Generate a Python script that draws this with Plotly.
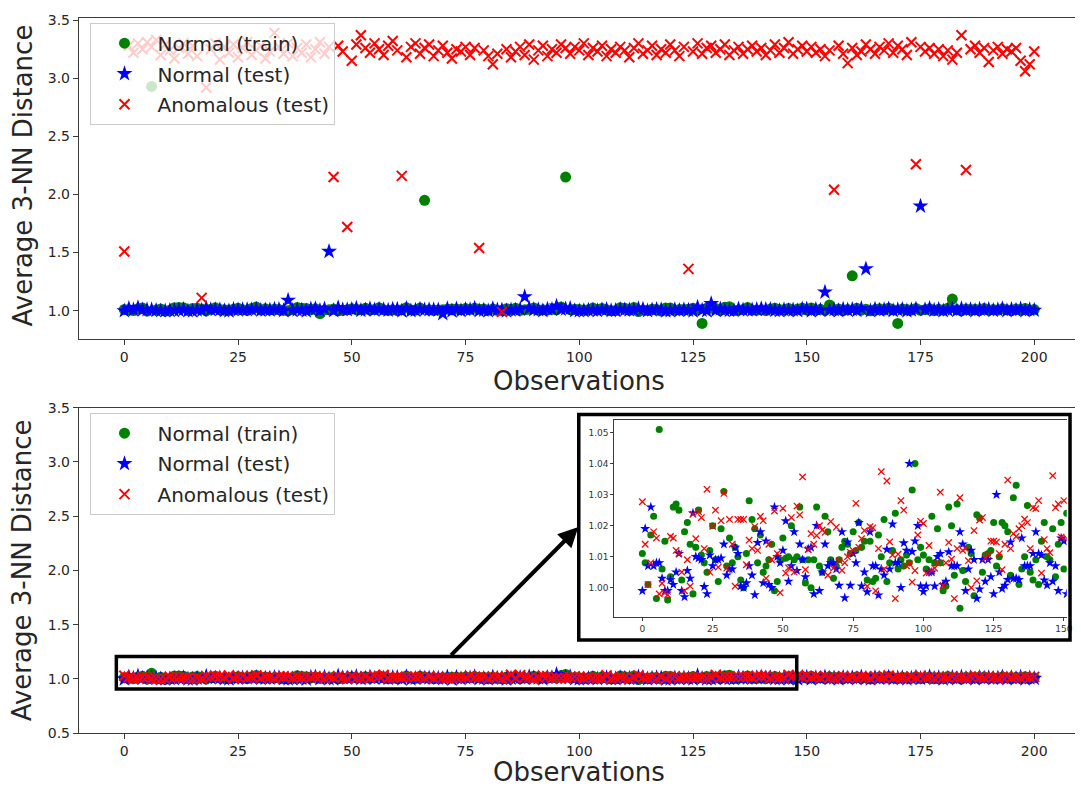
import plotly.graph_objects as go

# ---------------- data ----------------
obs = list(range(201))

# upper panel: average 3-NN distance per observation
top_train = [
    1.011, 1.008, 1.001, 1.017, 1.023, 0.997, 2.93, 1.006, 1.015, 0.996,
    1.004, 1.026, 1.027, 1.025, 1.003, 1.018, 1.021, 1.014, 0.998, 1.013,
    1.025, 1.011, 1.008, 1.005, 1.012, 1.020, 1.009, 1.002, 1.019, 1.031,
    1.007, 1.016, 1.008, 1.013, 1.010, 1.003, 1.000, 1.011, 1.028, 1.022,
    1.019, 1.008, 1.017, 0.975, 1.007, 1.009, 1.014, 0.999, 1.002, 1.009,
    1.016, 1.010, 1.010, 1.020, 1.009, 1.010, 1.026, 1.009, 1.002, 1.009,
    1.000, 1.009, 1.026, 1.007, 1.005, 1.023, 1.95, 1.009, 1.003, 1.007,
    1.009, 1.013, 1.015, 1.014, 1.011, 1.018, 1.012, 1.021, 1.013, 1.015,
    1.003, 1.015, 1.002, 1.003, 1.017, 1.010, 1.022, 1.002, 1.008, 1.012,
    1.024, 1.006, 1.009, 1.007, 1.011, 1.008, 1.032, 2.15, 1.009, 1.013,
    1.011, 1.006, 1.009, 1.023, 1.008, 1.019, 1.008, 0.999, 1.001, 1.026,
    1.020, 1.004, 1.027, 0.993, 1.006, 1.002, 1.013, 1.011, 0.997, 1.024,
    1.023, 1.005, 1.011, 1.011, 1.012, 1.021, 1.007, 0.89, 1.021, 1.020,
    1.018, 1.004, 1.029, 1.033, 1.001, 1.006, 1.010, 1.027, 1.005, 1.003,
    1.009, 1.001, 1.015, 1.021, 1.010, 1.009, 1.019, 1.004, 1.014, 1.021,
    1.006, 1.024, 1.006, 1.012, 1.003, 1.05, 1.009, 1.015, 1.001, 1.011,
    1.30, 1.020, 1.004, 1.013, 0.999, 1.010, 1.016, 1.005, 1.022, 1.008,
    0.89, 1.014, 1.011, 1.006, 1.019, 1.003, 1.009, 1.017, 1.000, 1.012,
    1.007, 1.021, 1.10, 1.010, 0.998, 1.015, 1.008, 1.013, 1.002, 1.018,
    1.006, 1.011, 1.004, 1.016, 1.009, 1.001, 1.014, 1.007, 1.019, 1.003,
    1.010,
]
top_test = [
    0.999, 1.019, 1.007, 1.026, 1.007, 1.008, 1.008, 1.003, 0.999, 0.999,
    1.003, 1.001, 1.005, 1.011, 0.999, 0.997, 1.006, 1.003, 1.024, 1.010,
    1.010, 1.009, 1.000, 0.998, 1.011, 1.007, 1.009, 1.009, 1.010, 1.014,
    1.004, 1.006, 1.006, 1.013, 1.011, 1.001, 1.09, 1.002, 1.007, 1.004,
    0.998, 1.015, 1.018, 1.002, 1.015, 1.51, 1.000, 1.026, 1.010, 1.008,
    1.012, 1.022, 1.002, 1.007, 1.018, 1.006, 1.014, 1.009, 1.004, 1.013,
    1.013, 0.998, 1.020, 0.999, 1.005, 1.014, 1.007, 1.008, 1.008, 1.006,
    0.975, 1.018, 0.997, 1.015, 1.001, 1.011, 1.008, 1.021, 1.001, 1.005,
    0.999, 1.018, 1.007, 1.007, 0.998, 1.006, 1.004, 1.012, 1.12, 1.021,
    1.008, 1.008, 1.000, 1.014, 1.012, 1.040, 1.012, 1.015, 1.020, 1.001,
    0.999, 1.001, 1.005, 1.005, 1.001, 1.010, 1.011, 1.001, 1.002, 1.012,
    1.007, 1.007, 1.007, 1.018, 1.014, 0.999, 1.006, 1.012, 1.009, 0.997,
    1.000, 1.009, 1.002, 1.009, 1.004, 0.998, 1.030, 1.005, 1.000, 1.06,
    1.003, 1.015, 1.003, 1.003, 1.003, 1.016, 1.007, 1.007, 1.007, 1.011,
    1.018, 1.011, 1.011, 1.002, 1.001, 1.008, 1.002, 1.007, 0.999, 1.016,
    1.015, 0.998, 1.012, 1.005, 1.16, 1.003, 1.009, 1.000, 1.014, 1.006,
    1.011, 1.002, 1.019, 1.36, 0.999, 1.013, 1.004, 1.010, 1.016, 1.001,
    1.008, 1.012, 0.998, 1.006, 1.015, 1.90, 1.009, 1.020, 1.004, 1.011,
    0.999, 1.007, 1.013, 1.002, 1.017, 1.005, 1.010, 1.000, 1.014, 1.006,
    1.012, 1.003, 1.008, 1.018, 1.001, 1.011, 1.005, 1.015, 0.999, 1.009,
    1.004,
]
top_anom = [
    1.51, 3.28, 3.22, 3.30, 3.25, 3.31, 3.27, 3.33, 3.20, 3.29,
    3.24, 3.17, 3.26, 3.30, 3.21, 3.28, 3.19, 1.11, 2.92, 3.25,
    3.30, 3.16, 3.27, 3.22, 3.29, 3.18, 3.26, 3.31, 3.20, 3.24,
    3.28, 3.17, 3.23, 3.39, 3.27, 3.21, 3.30, 3.19, 3.26, 3.22,
    3.29, 3.18, 3.25, 3.31, 3.21, 3.27, 2.15, 3.28, 3.23, 1.72,
    3.15, 3.29, 3.37, 3.26, 3.22, 3.30, 3.25, 3.20, 3.28, 3.32,
    3.24, 2.16, 3.18, 3.27, 3.30, 3.21, 3.26, 3.29, 3.19, 3.24,
    3.28, 3.22, 3.17, 3.25, 3.23, 3.27, 3.20, 3.26, 1.54, 3.24,
    3.19, 3.12, 3.21, 0.99, 3.25, 3.18, 3.23, 3.27, 3.20, 3.29,
    3.16, 3.24, 3.28, 3.19, 3.25, 3.22, 3.29, 3.26, 3.21, 3.27,
    3.24, 3.30, 3.20, 3.26, 3.23, 3.28, 3.19, 3.25, 3.22, 3.27,
    3.24, 3.18, 3.26, 3.30, 3.21, 3.24, 3.28, 3.20, 3.25, 3.22,
    3.29, 3.24, 3.19, 3.27, 1.36, 3.23, 3.30, 3.21, 3.26, 3.28,
    3.22, 3.25, 3.29, 3.20, 3.24, 3.27, 3.21, 3.25, 3.28, 3.23,
    3.26, 3.20, 3.24, 3.29, 3.22, 3.26, 3.31, 3.21, 3.25, 3.28,
    3.23, 3.27, 3.22, 3.25, 3.19, 3.24, 2.04, 3.28, 3.21, 3.13,
    3.26, 3.20, 3.23, 3.29, 3.25, 3.21, 3.27, 3.24, 3.30, 3.22,
    3.28, 3.25, 3.20, 3.31, 2.26, 3.27, 3.23, 3.26, 3.21, 3.25,
    3.19, 3.24, 3.16, 3.22, 3.37, 2.21, 3.25, 3.28, 3.22, 3.26,
    3.14, 3.24, 3.27, 3.21, 3.25, 3.23, 3.26, 3.15, 3.06, 3.12,
    3.23,
]

# lower panel: average 3-NN distance per observation
low_train = [
    1.011, 1.008, 1.001, 1.017, 1.023, 0.9965, 1.051, 1.006, 1.015, 0.996,
    1.0035, 1.026, 1.027, 1.025, 1.0025, 1.018, 1.021, 1.014, 0.998, 1.013,
    1.025, 1.0105, 1.008, 1.005, 1.012, 1.020, 1.009, 1.002, 1.019, 1.031,
    1.007, 1.016, 1.008, 1.013, 1.010, 1.0025, 1.000, 1.011, 1.028, 1.022,
    1.019, 1.008, 1.017, 1.005, 1.007, 1.009, 1.014, 0.999, 1.002, 1.009,
    1.016, 1.0095, 1.010, 1.020, 1.009, 1.010, 1.026, 1.009, 1.0015, 1.009,
    1.000, 1.009, 1.026, 1.007, 1.005, 1.023, 1.018, 1.009, 1.003, 1.007,
    1.009, 1.013, 1.015, 1.014, 1.011, 1.018, 1.012, 1.021, 1.013, 1.015,
    1.0025, 1.015, 1.002, 1.003, 1.017, 1.010, 1.022, 1.002, 1.008, 1.012,
    1.024, 1.006, 1.009, 1.007, 1.0105, 1.008, 1.0315, 1.040, 1.009, 1.013,
    1.0105, 1.006, 1.009, 1.023, 1.008, 1.019, 1.008, 0.999, 1.0005, 1.026,
    1.020, 1.004, 1.027, 0.9934, 1.0055, 1.002, 1.013, 1.011, 0.9974, 1.0235,
    1.0225, 1.005, 1.0105, 1.011, 1.012, 1.021, 1.007, 1.010, 1.021, 1.020,
    1.018, 1.004, 1.029, 1.033, 1.001, 1.006, 1.010, 1.0265, 1.005, 1.0025,
    1.009, 1.001, 1.015, 1.021, 1.010, 1.009, 1.019, 1.0035, 1.014, 1.021,
    1.006, 1.024, 1.006, 1.012, 1.003, 1.018, 1.009, 1.015, 1.001, 1.011,
    1.007, 1.020, 1.004, 1.013, 0.999, 1.010, 1.016, 1.005, 1.022, 1.008,
    1.002, 1.014, 1.011, 1.006, 1.019, 1.003, 1.009, 1.017, 1.000, 1.012,
    1.007, 1.021, 1.004, 1.010, 0.998, 1.015, 1.008, 1.013, 1.002, 1.018,
    1.006, 1.011, 1.004, 1.016, 1.009, 1.001, 1.014, 1.007, 1.019, 1.003,
    1.010,
]
low_test = [
    0.999, 1.019, 1.007, 1.026, 1.007, 1.008, 1.008, 1.003, 0.999, 0.999,
    1.0025, 1.001, 1.005, 1.011, 0.999, 0.997, 1.0055, 1.003, 1.024, 1.010,
    1.0095, 1.009, 1.0003, 0.998, 1.0105, 1.007, 1.009, 1.009, 1.0095, 1.014,
    1.004, 1.006, 1.006, 1.013, 1.011, 1.0005, 1.000, 1.0015, 1.007, 1.004,
    0.9977, 1.0145, 1.018, 1.0015, 1.015, 1.001, 1.000, 1.026, 1.010, 1.008,
    1.012, 1.0215, 1.002, 1.007, 1.018, 1.0055, 1.014, 1.009, 1.0035, 1.0125,
    1.013, 0.998, 1.020, 0.999, 1.005, 1.014, 1.007, 1.008, 1.008, 1.006,
    1.0007, 1.018, 0.9967, 1.0147, 1.0007, 1.011, 1.008, 1.021, 1.0005, 1.005,
    0.9986, 1.018, 1.007, 1.007, 0.9976, 1.006, 1.004, 1.0123, 1.006, 1.0205,
    1.008, 1.008, 1.000, 1.0144, 1.012, 1.040, 1.0116, 1.015, 1.020, 1.0005,
    0.9987, 1.0005, 1.005, 1.005, 1.0005, 1.010, 1.011, 1.001, 1.002, 1.0115,
    1.007, 1.007, 1.007, 1.018, 1.014, 0.999, 1.006, 1.012, 1.009, 0.9965,
    0.9995, 1.009, 1.002, 1.009, 1.0035, 0.998, 1.030, 1.005, 0.9997, 1.0007,
    1.0026, 1.0147, 1.003, 1.003, 1.0026, 1.016, 1.007, 1.007, 1.007, 1.011,
    1.018, 1.011, 1.0105, 1.0024, 1.0008, 1.008, 1.002, 1.007, 0.999, 1.016,
    1.015, 0.998, 1.012, 1.005, 1.017, 1.003, 1.009, 1.000, 1.014, 1.006,
    1.011, 1.002, 1.019, 1.007, 0.999, 1.013, 1.004, 1.010, 1.016, 1.001,
    1.008, 1.012, 0.998, 1.006, 1.015, 1.003, 1.009, 1.020, 1.004, 1.011,
    0.999, 1.007, 1.013, 1.002, 1.017, 1.005, 1.010, 1.000, 1.014, 1.006,
    1.012, 1.003, 1.008, 1.018, 1.001, 1.011, 1.005, 1.015, 0.999, 1.009,
    1.004,
]
low_anom = [
    1.0277, 1.014, 1.001, 1.008, 1.018, 1.016, 0.998, 1.0014, 0.9984, 0.9977,
    1.0165, 1.016, 1.012, 1.011, 1.005, 0.999, 1.009, 1.0005, 1.0237, 1.0158,
    1.0245, 1.0226, 1.0126, 1.0317, 1.005, 1.0198, 1.025, 1.0066, 1.0216, 1.0304,
    1.0063, 1.022, 1.014, 1.0005, 1.022, 1.022, 1.022, 1.0074, 1.0153, 1.0126,
    1.0197, 1.012, 1.023, 1.0216, 1.003, 1.014, 1.009, 1.0247, 1.011, 0.9984,
    1.0256, 1.0047, 1.0064, 1.0226, 1.005, 1.0263, 1.0235, 1.0357, 1.0058, 1.0123,
    1.0174, 1.014, 1.0168, 1.020, 1.0186, 1.0178, 1.004, 1.0213, 1.0063, 1.0195,
    1.0087, 1.0056, 1.008, 1.010, 1.0114, 1.012, 1.0272, 1.013, 1.0158, 1.0184,
    1.0005, 1.0197, 1.0193, 0.999, 1.0126, 1.0374, 1.006, 1.0344, 1.0148, 1.0105,
    0.9965, 1.0108, 1.0281, 1.025, 1.007, 1.0077, 1.0018, 1.0055, 1.017, 1.0214,
    1.0207, 1.0047, 1.0136, 1.0055, 1.0063, 1.0081, 1.0308, 1.0007, 1.008, 1.0146,
    1.0092, 0.9965, 1.0126, 1.029, 1.012, 1.0126, 1.0087, 1.000, 1.0184, 1.0022,
    1.0218, 1.0226, 1.0095, 1.0105, 1.015, 1.015, 1.0147, 1.011, 1.0058, 1.014,
    1.0347, 1.0126, 1.0174, 1.0165, 1.019, 1.020, 1.0221, 1.021, 1.0126, 1.0258,
    1.0255, 1.0281, 1.0047, 1.0155, 1.0126, 1.0113, 1.0361, 1.0258, 1.027, 1.0163,
    1.0281, 1.016, 1.022, 1.008, 1.027, 1.012, 1.003, 1.019, 1.025, 1.010,
    1.014, 1.006, 1.021, 1.017, 1.001, 1.024, 1.011, 1.015, 1.029, 1.007,
    1.018, 1.013, 1.004, 1.022, 1.009, 1.026, 1.016, 1.012, 1.002, 1.020,
    1.014, 1.008, 1.023, 1.017, 1.011, 1.005, 1.019, 1.027, 1.013, 1.009,
    1.021, 1.015, 1.003, 1.018, 1.024, 1.010, 1.016, 1.006, 1.020, 1.012,
    1.018,
]

series_names = ["Normal (train)", "Normal (test)", "Anomalous (test)"]
x_ticks = [0, 25, 50, 75, 100, 125, 150, 175, 200]
top_y_ticks = [1.0, 1.5, 2.0, 2.5, 3.0, 3.5]
low_y_ticks = [0.5, 1.0, 1.5, 2.0, 2.5, 3.0, 3.5]
inset_y_ticks = [1.00, 1.01, 1.02, 1.03, 1.04, 1.05]
inset_x_ticks = [0, 25, 50, 75, 100, 125, 150]

# ---------------- styling ----------------
W, H = 1081, 792
FONT = "DejaVu Sans"
TXT = "#262626"
GREEN, BLUE, RED = "#008000", "#0000ff", "#ff0000"


def px_x(p):
    return p / W


def px_y(p):
    return 1 - p / H


def marker_style(kind, scale=1.0):
    if kind == 0:
        return dict(symbol="circle", size=11 * scale, color=GREEN, line=dict(width=0))
    if kind == 1:
        return dict(symbol="star", size=12 * scale, color=BLUE, line=dict(width=0))
    return dict(symbol="x-thin", size=10 * scale, color=RED,
                line=dict(width=2 * scale, color=RED))


fig = go.Figure()

panels = [
    ("x", "y", "legend", [top_train, top_test, top_anom], True, 1.0),
    ("x2", "y2", "legend2", [low_train, low_test, low_anom], True, 1.0),
    ("x3", "y3", None, [low_train[:152], low_test[:152], low_anom[:152]], False, 0.64),
]
for xa, ya, leg, data, show, sc in panels:
    for k, (name, vals) in enumerate(zip(series_names, data)):
        kw = dict(legend=leg, legendgroup=f"{leg}{k}") if leg else {}
        fig.add_trace(go.Scatter(
            x=obs[:len(vals)], y=vals, mode="markers", name=name,
            marker=marker_style(k, sc), xaxis=xa, yaxis=ya,
            showlegend=show, **kw,
        ))

axis_common = dict(
    showgrid=False, zeroline=False, showline=True, linecolor="#3a3a3a",
    linewidth=1, ticks="outside", ticklen=5, tickwidth=1, tickcolor="#3a3a3a",
    tickfont=dict(family=FONT, size=14, color=TXT),
)
inset_axis = dict(
    showgrid=False, zeroline=False, showline=True, linecolor="#3a3a3a",
    linewidth=1, ticks="outside", ticklen=3, tickcolor="#3a3a3a",
    tickfont=dict(family=FONT, size=9, color="#333"),
)
legend_common = dict(
    xanchor="left", yanchor="top", bgcolor="rgba(255,255,255,0.8)",
    bordercolor="#cccccc", borderwidth=1, tracegroupgap=1.5, itemwidth=56,
    font=dict(family=FONT, size=20, color=TXT),
)

x_dom = [79.25 / W, 1.0]
x_rng = [-10, (W - 125) / 4.575]

fig.update_layout(
    width=W, height=H, margin=dict(l=0, r=0, t=0, b=0),
    paper_bgcolor="white", plot_bgcolor="white",
    font=dict(family=FONT, color=TXT),
    xaxis=dict(domain=x_dom, range=x_rng, tickvals=x_ticks, anchor="y",
               mirror=True, **axis_common),
    yaxis=dict(domain=[px_y(338), px_y(10)], range=[0.755, 3.52],
               tickvals=top_y_ticks, tickformat=".1f", anchor="x", **axis_common),
    xaxis2=dict(domain=x_dom, range=x_rng, tickvals=x_ticks, anchor="y2",
                mirror=True, **axis_common),
    yaxis2=dict(domain=[px_y(740), px_y(408)], range=[0.5, 3.5],
                tickvals=low_y_ticks, tickformat=".1f", anchor="x2", **axis_common),
    xaxis3=dict(domain=[617.7 / W, 1072.7 / W], range=[-10, 151],
                tickvals=inset_x_ticks, anchor="y3", mirror=True, **inset_axis),
    yaxis3=dict(domain=[px_y(621.7), px_y(420.7)], range=[0.9905, 1.054],
                tickvals=inset_y_ticks, tickformat=".2f", anchor="x3", **inset_axis),
    legend=dict(x=px_x(91), y=px_y(15), **legend_common),
    legend2=dict(x=px_x(91), y=px_y(413), **legend_common),
)

# axis titles
title_font = dict(family=FONT, size=26, color=TXT)
for yc in (171, 574):
    fig.add_annotation(text="Average 3-NN Distance", xref="paper", yref="paper",
                       x=px_x(23), y=px_y(yc), textangle=-90, showarrow=False,
                       xanchor="center", yanchor="middle", font=title_font)
for yc in (381, 780):
    fig.add_annotation(text="Observations", xref="paper", yref="paper",
                       x=px_x(582), y=px_y(yc), showarrow=False,
                       xanchor="center", yanchor="middle", font=title_font)

# highlighted band on the lower panel and the zoom frame around the inset
fig.add_shape(type="rect", xref="x2", yref="y2", x0=-1.75, x1=147.8,
              y0=0.907, y1=1.205, line=dict(color="black", width=3.5),
              layer="above")
fig.add_shape(type="rect", xref="paper", yref="paper",
              x0=px_x(582), x1=px_x(1076), y0=px_y(645), y1=px_y(415),
              line=dict(color="black", width=3.5), layer="above")

# arrow from the highlighted band to the inset
fig.add_annotation(xref="x2", yref="y2", axref="x2", ayref="y2",
                   x=99.8, y=2.40, ax=71.5, ay=1.205, text="",
                   showarrow=True, arrowhead=2, arrowsize=1.0, arrowwidth=4,
                   arrowcolor="black", standoff=0, startstandoff=0)

fig.write_html("out.html")
